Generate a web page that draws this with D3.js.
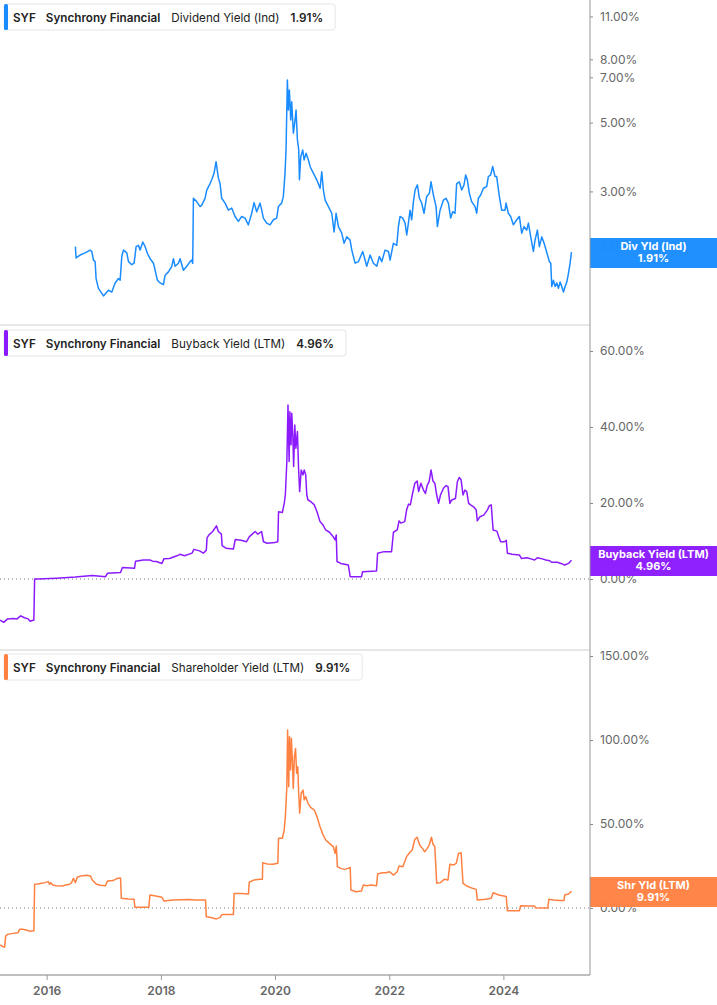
<!DOCTYPE html>
<html>
<head>
<meta charset="utf-8">
<script src="https://cdn.jsdelivr.net/npm/d3@7"></script>
<style>
  html, body { margin: 0; padding: 0; background: #fff; }
  svg { display: block; font-family: Inter, "Noto Sans", sans-serif; }
</style>
</head>
<body>
<svg id="chart" width="717" height="1005"></svg>
<script>
// ---------------- DATA (decimal year, percent) ----------------
const ticker = "SYF";
const company = "Synchrony Financial";
const metricNames = ["Dividend Yield (Ind)", "Buyback Yield (LTM)", "Shareholder Yield (LTM)"];
const shortNames = ["Div Yld (Ind)", "Buyback Yield (LTM)", "Shr Yld (LTM)"];
const lastValues = [1.91, 4.96, 9.91];
const xTickYears = [2016, 2018, 2020, 2022, 2024];
const divTicks = [2, 3, 5, 7, 8, 11];
const buybackTicks = [0, 20, 40, 60];
const shrTicks = [0, 50, 100, 150];

const dividendYield = [
 [2016.503,1.99],[2016.515,1.83],[2016.585,1.87],[2016.673,1.90],[2016.760,1.94],[2016.790,1.92],[2016.819,1.80],[2016.848,1.78],
 [2016.865,1.57],[2016.906,1.46],[2016.994,1.38],[2017.081,1.44],[2017.140,1.42],[2017.198,1.52],[2017.257,1.57],[2017.286,1.55],
 [2017.315,1.85],[2017.344,1.94],[2017.403,1.90],[2017.432,1.78],[2017.490,1.74],[2017.531,1.76],[2017.566,1.99],[2017.607,2.01],
 [2017.636,1.94],[2017.683,2.06],[2017.724,1.99],[2017.765,1.89],[2017.811,1.82],[2017.870,1.76],[2017.899,1.67],[2017.940,1.55],
 [2017.986,1.52],[2018.045,1.50],[2018.074,1.61],[2018.132,1.65],[2018.191,1.72],[2018.220,1.82],[2018.249,1.72],[2018.307,1.76],
 [2018.337,1.82],[2018.395,1.67],[2018.453,1.72],[2018.512,1.78],[2018.541,1.80],[2018.558,1.76],[2018.570,2.85],[2018.628,2.78],
 [2018.687,2.68],[2018.716,2.71],[2018.774,2.85],[2018.804,3.03],[2018.862,3.18],[2018.891,3.27],[2018.932,3.43],[2018.967,3.74],
 [2019.008,3.31],[2019.037,3.18],[2019.066,2.85],[2019.125,2.75],[2019.183,2.61],[2019.241,2.65],[2019.300,2.49],[2019.358,2.40],
 [2019.417,2.49],[2019.475,2.46],[2019.533,2.34],[2019.592,2.55],[2019.633,2.76],[2019.679,2.58],[2019.738,2.75],[2019.767,2.61],
 [2019.796,2.46],[2019.854,2.37],[2019.913,2.34],[2019.971,2.43],[2020.030,2.46],[2020.059,2.68],[2020.117,2.75],[2020.146,2.89],
 [2020.175,3.43],[2020.193,4.08],[2020.216,6.86],[2020.234,5.49],[2020.251,6.37],[2020.275,5.10],[2020.292,5.84],[2020.321,4.62],
 [2020.351,5.10],[2020.368,5.49],[2020.392,4.39],[2020.415,4.08],[2020.427,3.27],[2020.450,3.88],[2020.485,4.08],[2020.508,3.79],
 [2020.543,3.98],[2020.584,3.79],[2020.613,3.61],[2020.672,3.43],[2020.730,3.27],[2020.788,3.07],[2020.817,3.47],[2020.846,3.03],
 [2020.876,2.81],[2020.934,2.68],[2020.992,2.55],[2021.033,2.22],[2021.068,2.55],[2021.109,2.31],[2021.167,2.20],[2021.208,2.04],
 [2021.255,2.14],[2021.313,2.09],[2021.343,1.94],[2021.401,1.76],[2021.459,1.78],[2021.535,1.92],[2021.605,1.72],[2021.664,1.87],
 [2021.722,1.76],[2021.780,1.72],[2021.827,1.85],[2021.868,1.78],[2021.926,1.94],[2021.985,1.92],[2022.014,1.80],[2022.072,2.04],
 [2022.131,2.01],[2022.160,2.31],[2022.189,2.49],[2022.236,2.46],[2022.277,2.37],[2022.306,2.17],[2022.335,2.37],[2022.364,2.61],
 [2022.393,2.43],[2022.423,2.78],[2022.452,3.03],[2022.493,3.15],[2022.528,2.85],[2022.568,2.75],[2022.609,2.55],[2022.656,2.89],
 [2022.703,2.96],[2022.732,3.22],[2022.773,2.92],[2022.820,2.68],[2022.843,2.31],[2022.890,2.61],[2022.948,2.81],[2022.995,2.85],
 [2023.036,2.75],[2023.076,2.46],[2023.111,2.58],[2023.152,2.55],[2023.181,3.18],[2023.228,3.22],[2023.269,3.03],[2023.310,3.15],
 [2023.339,3.39],[2023.368,3.27],[2023.403,2.96],[2023.444,2.78],[2023.503,2.68],[2023.532,2.55],[2023.561,2.85],[2023.602,2.92],
 [2023.649,3.07],[2023.707,3.11],[2023.736,3.35],[2023.777,3.39],[2023.812,3.61],[2023.853,3.35],[2023.882,3.35],[2023.929,2.89],
 [2023.970,2.61],[2024.028,2.61],[2024.046,2.75],[2024.086,2.55],[2024.127,2.49],[2024.174,2.34],[2024.232,2.43],[2024.279,2.49],
 [2024.320,2.20],[2024.361,2.31],[2024.407,2.25],[2024.437,2.37],[2024.466,2.20],[2024.524,1.92],[2024.553,2.09],[2024.594,2.25],
 [2024.629,1.99],[2024.670,2.14],[2024.711,2.04],[2024.746,1.94],[2024.804,1.78],[2024.828,1.76],[2024.845,1.48],[2024.874,1.55],
 [2024.904,1.48],[2024.933,1.52],[2024.962,1.46],[2024.991,1.53],[2025.020,1.48],[2025.050,1.42],[2025.079,1.48],[2025.108,1.53],
 [2025.137,1.63],[2025.166,1.76],[2025.190,1.91]
];

const buybackYield = [
 [2015.184,-10.8],[2015.250,-11.4],[2015.316,-10.5],[2015.415,-10.4],[2015.481,-10.5],[2015.547,-9.7],[2015.612,-10.2],[2015.678,-10.5],
 [2015.711,-11.1],[2015.777,-10.8],[2015.790,0.0],[2015.843,0.0],[2016.173,0.2],[2016.502,0.5],[2016.799,0.9],[2017.030,0.6],
 [2017.063,1.5],[2017.293,1.7],[2017.326,3.0],[2017.537,2.8],[2017.557,4.7],[2017.689,5.0],[2017.808,5.0],[2017.854,4.7],
 [2017.920,4.6],[2018.019,4.1],[2018.052,5.3],[2018.150,5.4],[2018.282,6.1],[2018.335,6.5],[2018.414,6.1],[2018.546,6.8],
 [2018.579,7.8],[2018.678,7.4],[2018.744,6.8],[2018.796,7.6],[2018.810,10.9],[2018.843,11.6],[2018.908,12.5],[2018.974,14.0],
 [2019.007,12.5],[2019.060,11.8],[2019.073,8.8],[2019.139,8.1],[2019.271,7.9],[2019.304,10.4],[2019.403,10.2],[2019.502,9.8],
 [2019.548,11.1],[2019.601,11.8],[2019.653,12.5],[2019.700,11.8],[2019.765,12.5],[2019.798,9.8],[2019.864,9.4],[2019.996,9.6],
 [2020.049,9.8],[2020.062,17.7],[2020.128,17.5],[2020.161,19.9],[2020.181,22.1],[2020.207,30.9],[2020.227,45.8],[2020.247,30.9],
 [2020.260,44.0],[2020.280,35.3],[2020.293,43.6],[2020.313,37.0],[2020.326,29.6],[2020.346,40.5],[2020.365,34.4],[2020.392,38.8],
 [2020.412,29.1],[2020.431,23.0],[2020.458,28.7],[2020.491,27.4],[2020.510,28.7],[2020.537,27.4],[2020.556,22.1],[2020.576,20.8],
 [2020.622,20.4],[2020.688,19.5],[2020.734,17.7],[2020.787,15.1],[2020.840,14.2],[2020.886,12.9],[2020.952,12.3],[2021.018,11.1],
 [2021.051,10.3],[2021.071,11.6],[2021.084,4.6],[2021.150,4.1],[2021.282,3.7],[2021.315,0.6],[2021.512,0.6],[2021.532,1.9],
 [2021.776,2.1],[2021.796,6.8],[2021.908,7.2],[2022.040,7.2],[2022.073,12.3],[2022.139,12.9],[2022.172,15.3],[2022.205,14.7],
 [2022.271,15.1],[2022.304,18.2],[2022.337,19.7],[2022.369,19.5],[2022.402,22.1],[2022.448,25.2],[2022.488,25.8],[2022.514,23.0],
 [2022.554,25.2],[2022.600,23.4],[2022.633,22.5],[2022.666,24.7],[2022.699,25.6],[2022.732,28.7],[2022.765,25.8],[2022.798,25.2],
 [2022.831,22.1],[2022.864,19.9],[2022.897,22.1],[2022.950,23.9],[2022.996,24.6],[2023.029,24.3],[2023.062,19.9],[2023.094,20.8],
 [2023.160,21.2],[2023.193,25.6],[2023.226,26.7],[2023.259,26.1],[2023.292,22.1],[2023.325,23.4],[2023.358,23.0],[2023.391,19.9],
 [2023.424,19.5],[2023.477,19.0],[2023.523,18.2],[2023.543,15.3],[2023.589,16.4],[2023.655,16.8],[2023.721,18.2],[2023.754,19.3],
 [2023.787,19.5],[2023.820,12.9],[2023.886,12.6],[2023.919,11.1],[2023.952,9.8],[2024.017,9.8],[2024.050,10.2],[2024.070,6.8],
 [2024.149,6.5],[2024.281,6.3],[2024.314,5.4],[2024.413,5.6],[2024.479,5.3],[2024.545,5.0],[2024.598,5.6],[2024.677,5.3],
 [2024.743,5.0],[2024.809,4.8],[2024.842,4.4],[2024.940,4.4],[2025.006,4.1],[2025.072,3.7],[2025.138,4.1],[2025.190,4.96]
];

const shareholderYield = [
 [2015.184,-22.0],[2015.237,-23.0],[2015.263,-23.4],[2015.283,-16.7],[2015.316,-15.7],[2015.415,-15.1],[2015.500,-14.7],[2015.527,-12.7],
 [2015.580,-12.7],[2015.645,-13.1],[2015.711,-13.9],[2015.777,-13.5],[2015.790,14.1],[2015.843,14.3],[2015.909,14.7],[2015.975,15.1],
 [2016.028,15.7],[2016.054,14.1],[2016.074,15.1],[2016.107,13.7],[2016.173,13.3],[2016.272,13.1],[2016.338,13.7],[2016.404,14.1],
 [2016.437,15.1],[2016.469,17.7],[2016.502,15.1],[2016.535,18.3],[2016.601,19.1],[2016.700,19.5],[2016.766,19.1],[2016.799,16.7],
 [2016.865,14.3],[2016.931,13.5],[2017.030,13.3],[2017.063,16.1],[2017.162,16.3],[2017.228,17.5],[2017.293,17.9],[2017.307,5.8],
 [2017.425,5.4],[2017.531,5.2],[2017.544,0.4],[2017.788,0.4],[2017.808,7.7],[2017.887,7.3],[2018.019,6.4],[2018.052,4.2],
 [2018.216,4.8],[2018.480,5.0],[2018.612,4.8],[2018.783,4.8],[2018.796,-5.2],[2018.876,-5.6],[2018.974,-6.5],[2019.040,-5.6],
 [2019.073,-3.8],[2019.271,-3.8],[2019.284,8.7],[2019.403,8.7],[2019.535,8.3],[2019.548,15.3],[2019.634,16.7],[2019.733,17.1],
 [2019.779,17.1],[2019.785,27.0],[2019.864,26.2],[2019.963,26.0],[2020.049,26.6],[2020.062,41.5],[2020.128,41.5],[2020.161,46.4],
 [2020.181,54.4],[2020.207,72.2],[2020.220,106.0],[2020.240,72.2],[2020.253,102.0],[2020.273,82.1],[2020.286,101.0],[2020.306,86.1],
 [2020.319,71.2],[2020.339,90.1],[2020.359,95.0],[2020.378,80.2],[2020.398,84.1],[2020.412,70.2],[2020.431,56.4],[2020.458,68.3],
 [2020.491,70.2],[2020.510,64.3],[2020.537,66.3],[2020.576,62.3],[2020.622,59.9],[2020.688,58.3],[2020.734,54.4],[2020.787,48.4],
 [2020.840,43.5],[2020.886,40.5],[2020.952,38.5],[2021.018,36.5],[2021.051,32.5],[2021.071,36.9],[2021.091,24.6],[2021.150,23.6],
 [2021.216,23.0],[2021.282,23.6],[2021.315,24.2],[2021.328,10.7],[2021.413,9.7],[2021.512,10.1],[2021.545,13.7],[2021.611,13.3],
 [2021.677,13.7],[2021.776,13.3],[2021.796,20.2],[2021.875,21.0],[2021.941,21.0],[2022.007,21.6],[2022.073,19.6],[2022.139,21.6],
 [2022.172,25.0],[2022.238,24.6],[2022.304,30.6],[2022.356,32.9],[2022.402,34.5],[2022.448,40.9],[2022.488,42.1],[2022.534,37.5],
 [2022.580,35.5],[2022.620,33.5],[2022.666,35.5],[2022.699,37.5],[2022.739,42.1],[2022.765,38.1],[2022.798,36.5],[2022.831,14.7],
 [2022.897,15.1],[2022.963,17.1],[2023.029,16.7],[2023.062,26.0],[2023.128,25.6],[2023.174,26.6],[2023.213,32.5],[2023.259,32.9],
 [2023.292,14.7],[2023.358,13.1],[2023.457,11.7],[2023.523,11.1],[2023.543,4.8],[2023.688,5.2],[2023.787,5.8],[2023.820,9.1],
 [2023.919,7.7],[2024.050,6.8],[2024.070,-1.6],[2024.182,-1.6],[2024.281,-1.6],[2024.301,1.4],[2024.413,1.2],[2024.545,1.2],
 [2024.558,0.2],[2024.677,0.0],[2024.775,0.0],[2024.795,5.2],[2024.874,4.8],[2024.973,4.4],[2025.059,4.4],[2025.072,7.7],
 [2025.138,8.3],[2025.190,9.91]
];

const colors = ["#1a8cff", "#8c1aff", "#ff8142"];

// ---------------- HELPERS ----------------
function toDate(y) {
  const yr = Math.floor(y);
  const s = Date.UTC(yr, 0, 1), e = Date.UTC(yr + 1, 0, 1);
  return new Date(s + (y - yr) * (e - s));
}
const fmtPct = v => v.toFixed(2) + "%";

const svg = d3.select("#chart");
const plotRight = 590;

const x = d3.scaleUtc()
  .domain([new Date(Date.UTC(2016,0,1)), new Date(Date.UTC(2024,0,1))])
  .range([46.6, 503.4]);

const panels = [
  { data: dividendYield, y: d3.scaleLog().domain([1, 10]).range([339.3, 29.3]), ticks: divTicks,
    top: 0, bottom: 325, zero: false, legendY: 4, boxY: 238 },
  { data: buybackYield, y: d3.scaleLinear().domain([0, 60]).range([579, 351]), ticks: buybackTicks,
    top: 325, bottom: 650, zero: true, legendY: 330, boxY: 546 },
  { data: shareholderYield, y: d3.scaleLinear().domain([0, 150]).range([908, 656]), ticks: shrTicks,
    top: 650, bottom: 972, zero: true, legendY: 654, boxY: 877 }
];

// clip
const defs = svg.append("defs");
panels.forEach((p, i) => {
  defs.append("clipPath").attr("id", "clip" + i)
    .append("rect").attr("x", 0).attr("y", p.top).attr("width", plotRight).attr("height", p.bottom - p.top);
});

// separators
[325, 650].forEach(yy => {
  svg.append("line").attr("x1", 0).attr("x2", plotRight).attr("y1", yy).attr("y2", yy)
    .attr("stroke", "#d0d0d0").attr("stroke-width", 1.2);
});

panels.forEach((p, i) => {
  const g = svg.append("g");
  if (p.zero) {
    g.append("line").attr("x1", 0).attr("x2", plotRight)
      .attr("y1", p.y(0)).attr("y2", p.y(0))
      .attr("stroke", "#777").attr("stroke-width", 1).attr("stroke-dasharray", "1,3");
  }
  const line = d3.line().x(d => x(toDate(d[0]))).y(d => p.y(d[1]));
  g.append("path").datum(p.data)
    .attr("clip-path", "url(#clip" + i + ")")
    .attr("fill", "none").attr("stroke", colors[i]).attr("stroke-width", 1.5)
    .attr("stroke-linejoin", "round")
    .attr("d", line);

  // right axis
  const axis = d3.axisRight(p.y).tickValues(p.ticks).tickSize(3).tickPadding(7).tickFormat(fmtPct);
  const ag = svg.append("g").attr("transform", `translate(${plotRight},0)`).call(axis);
  ag.select(".domain").remove();
  ag.selectAll(".tick line").attr("stroke", "#888");
  ag.selectAll(".tick text").attr("fill", "#666").style("font-size", "12px")
    .style("font-family", "Inter, sans-serif");

  // legend box
  const lg = svg.append("g").attr("transform", `translate(4,${p.legendY})`);
  const bg = lg.append("rect").attr("x", 0).attr("y", 0).attr("height", 26).attr("rx", 3)
    .attr("fill", "#fff").attr("stroke", "#e6e6e6");
  lg.append("rect").attr("x", 0).attr("y", 0).attr("width", 4).attr("height", 26).attr("rx", 1.5)
    .attr("fill", colors[i]);
  const parts = [
    { t: ticker, w: 600, dx: 9 },
    { t: company, w: 600, dx: 10 },
    { t: metricNames[i], w: 400, dx: 11 },
    { t: fmtPct(lastValues[i]), w: 600, dx: 11 }
  ];
  let cx = 0;
  parts.forEach(pt => {
    cx += pt.dx;
    const tx = lg.append("text").attr("x", cx).attr("y", 17.5)
      .attr("fill", "#222").style("font-size", "11.7px").style("font-weight", pt.w).text(pt.t);
    cx += tx.node().getComputedTextLength();
  });
  bg.attr("width", cx + 12);

  // value box on the right
  const vb = svg.append("g").attr("transform", `translate(${plotRight},${p.boxY})`);
  vb.append("rect").attr("width", 717 - plotRight).attr("height", 30).attr("fill", colors[i]).attr("opacity", 0.97);
  vb.append("text").attr("x", (717 - plotRight) / 2).attr("y", 12).attr("text-anchor", "middle")
    .attr("fill", "#fff").style("font-size", "11px").style("font-weight", 700).text(shortNames[i]);
  vb.append("text").attr("x", (717 - plotRight) / 2).attr("y", 24).attr("text-anchor", "middle")
    .attr("fill", "#fff").style("font-size", "11px").style("font-weight", 700).text(fmtPct(lastValues[i]));
});

// vertical axis line
svg.append("line").attr("x1", plotRight).attr("x2", plotRight).attr("y1", 0).attr("y2", 975)
  .attr("stroke", "#999").attr("stroke-width", 1);

// x axis
const xg = svg.append("g").attr("transform", "translate(0,975)")
  .call(d3.axisBottom(x).tickValues(xTickYears.map(yr => new Date(Date.UTC(yr,0,1))))
    .tickSize(5).tickPadding(6).tickFormat(d3.utcFormat("%Y")));
xg.select(".domain").attr("d", `M0,0H${plotRight}`).attr("stroke", "#aaa").attr("stroke-width", 1.5);
xg.selectAll(".tick line").attr("stroke", "#999");
xg.selectAll(".tick text").attr("fill", "#666").style("font-size", "12px").style("font-weight", 600)
  .style("font-family", "Inter, sans-serif");
</script>
</body>
</html>
